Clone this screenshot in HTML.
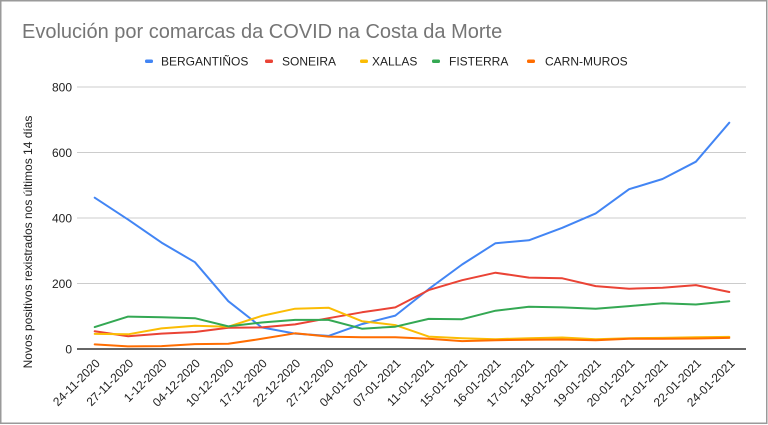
<!DOCTYPE html>
<html>
<head>
<meta charset="utf-8">
<style>
html,body{margin:0;padding:0;background:#fff;}
body{width:768px;height:425px;overflow:hidden;}
svg{display:block;font-family:"Liberation Sans",Arial,sans-serif;}
</style>
</head>
<body>
<svg width="768" height="425" viewBox="0 0 768 425" xmlns="http://www.w3.org/2000/svg">
  <rect x="0" y="0" width="768" height="425" fill="#fff"/>
  <rect x="0.75" y="0.75" width="766" height="422.5" fill="none" stroke="#9a9a9a" stroke-width="1.5"/>

  <!-- Title -->
  <text x="22" y="38" font-size="20" fill="#757575">Evolución por comarcas da COVID na Costa da Morte</text>

  <!-- Legend -->
  <g font-size="12" fill="#222">
    <rect x="145" y="59.5" width="8" height="3.5" rx="1.5" fill="#4285F4"/>
    <text x="161" y="65.3">BERGANTIÑOS</text>
    <rect x="265" y="59.5" width="8" height="3.5" rx="1.5" fill="#EA4335"/>
    <text x="282" y="65.3">SONEIRA</text>
    <rect x="360" y="59.5" width="8" height="3.5" rx="1.5" fill="#FBBC04"/>
    <text x="372" y="65.3">XALLAS</text>
    <rect x="432" y="59.5" width="8" height="3.5" rx="1.5" fill="#34A853"/>
    <text x="449" y="65.3">FISTERRA</text>
    <rect x="527" y="59.5" width="8" height="3.5" rx="1.5" fill="#FF6D01"/>
    <text x="545" y="65.3">CARN-MUROS</text>
  </g>

  <!-- Gridlines -->
  <g stroke="#cccccc" stroke-width="1">
    <line x1="77" y1="87" x2="746" y2="87"/>
    <line x1="77" y1="152.5" x2="746" y2="152.5"/>
    <line x1="77" y1="218" x2="746" y2="218"/>
    <line x1="77" y1="283.5" x2="746" y2="283.5"/>
  </g>

  <!-- Y tick labels -->
  <g font-size="12" fill="#222" text-anchor="end">
    <text x="72" y="91.3">800</text>
    <text x="72" y="156.8">600</text>
    <text x="72" y="222.3">400</text>
    <text x="72" y="287.8">200</text>
    <text x="72" y="353.3">0</text>
  </g>

  <!-- Y axis title -->
  <text x="0" y="0" font-size="12" fill="#222" text-anchor="middle" transform="translate(32,242) rotate(-90)">Novos positivos rexistrados nos últimos 14 días</text>

  <!-- Series -->
  <g fill="none" stroke-width="2" stroke-linejoin="round" stroke-linecap="round">
    <polyline stroke="#4285F4" points="94.7,197.7 128.1,219.6 161.5,242.6 194.9,262.2 228.3,301.2 261.7,327.4 295.1,333.6 328.5,335.9 361.9,324.1 395.3,315.6 428.7,289.1 462.1,264.5 495.5,243.2 528.9,240.3 562.3,227.8 595.7,213.4 629.1,189.2 662.5,179.0 695.9,161.7 729.3,122.7"/>
    <polyline stroke="#EA4335" points="94.7,331.3 128.1,336.2 161.5,333.6 194.9,332.0 228.3,327.7 261.7,327.4 295.1,324.4 328.5,318.2 361.9,312.3 395.3,307.4 428.7,290.1 462.1,280.2 495.5,272.7 528.9,277.6 562.3,278.3 595.7,286.1 629.1,288.7 662.5,287.8 695.9,285.1 729.3,292.0"/>
    <polyline stroke="#FBBC04" points="94.7,333.9 128.1,334.3 161.5,328.4 194.9,325.7 228.3,326.7 261.7,315.9 295.1,308.7 328.5,307.7 361.9,321.2 395.3,325.1 428.7,336.6 462.1,338.2 495.5,339.2 528.9,338.2 562.3,337.5 595.7,339.2 629.1,338.2 662.5,337.9 695.9,337.2 729.3,336.9"/>
    <polyline stroke="#34A853" points="94.7,327.1 128.1,316.6 161.5,317.2 194.9,318.2 228.3,326.4 261.7,322.5 295.1,319.9 328.5,319.9 361.9,328.7 395.3,326.7 428.7,318.9 462.1,319.2 495.5,310.7 528.9,306.8 562.3,307.4 595.7,308.7 629.1,306.1 662.5,303.2 695.9,304.5 729.3,301.2"/>
    <polyline stroke="#FF6D01" points="94.7,344.4 128.1,346.4 161.5,346.1 194.9,344.1 228.3,343.8 261.7,338.8 295.1,333.3 328.5,336.6 361.9,337.2 395.3,337.2 428.7,338.8 462.1,341.1 495.5,340.2 528.9,339.8 562.3,339.5 595.7,340.2 629.1,338.8 662.5,338.8 695.9,338.5 729.3,337.9"/>
  </g>

  <!-- Baseline -->
  <line x1="77" y1="349" x2="746" y2="349" stroke="#333" stroke-width="1.5"/>

  <!-- X labels -->
  <g font-size="12" fill="#222" text-anchor="end">
    <text transform="translate(100.7,364) rotate(-45)">24-11-2020</text>
    <text transform="translate(134.1,364) rotate(-45)">27-11-2020</text>
    <text transform="translate(167.5,364) rotate(-45)">1-12-2020</text>
    <text transform="translate(200.9,364) rotate(-45)">04-12-2020</text>
    <text transform="translate(234.3,364) rotate(-45)">10-12-2020</text>
    <text transform="translate(267.7,364) rotate(-45)">17-12-2020</text>
    <text transform="translate(301.1,364) rotate(-45)">22-12-2020</text>
    <text transform="translate(334.5,364) rotate(-45)">27-12-2020</text>
    <text transform="translate(367.9,364) rotate(-45)">04-01-2021</text>
    <text transform="translate(401.3,364) rotate(-45)">07-01-2021</text>
    <text transform="translate(434.7,364) rotate(-45)">11-01-2021</text>
    <text transform="translate(468.1,364) rotate(-45)">15-01-2021</text>
    <text transform="translate(501.5,364) rotate(-45)">16-01-2021</text>
    <text transform="translate(534.9,364) rotate(-45)">17-01-2021</text>
    <text transform="translate(568.3,364) rotate(-45)">18-01-2021</text>
    <text transform="translate(601.7,364) rotate(-45)">19-01-2021</text>
    <text transform="translate(635.1,364) rotate(-45)">20-01-2021</text>
    <text transform="translate(668.5,364) rotate(-45)">21-01-2021</text>
    <text transform="translate(701.9,364) rotate(-45)">22-01-2021</text>
    <text transform="translate(735.3,364) rotate(-45)">24-01-2021</text>
  </g>
</svg>
</body>
</html>
